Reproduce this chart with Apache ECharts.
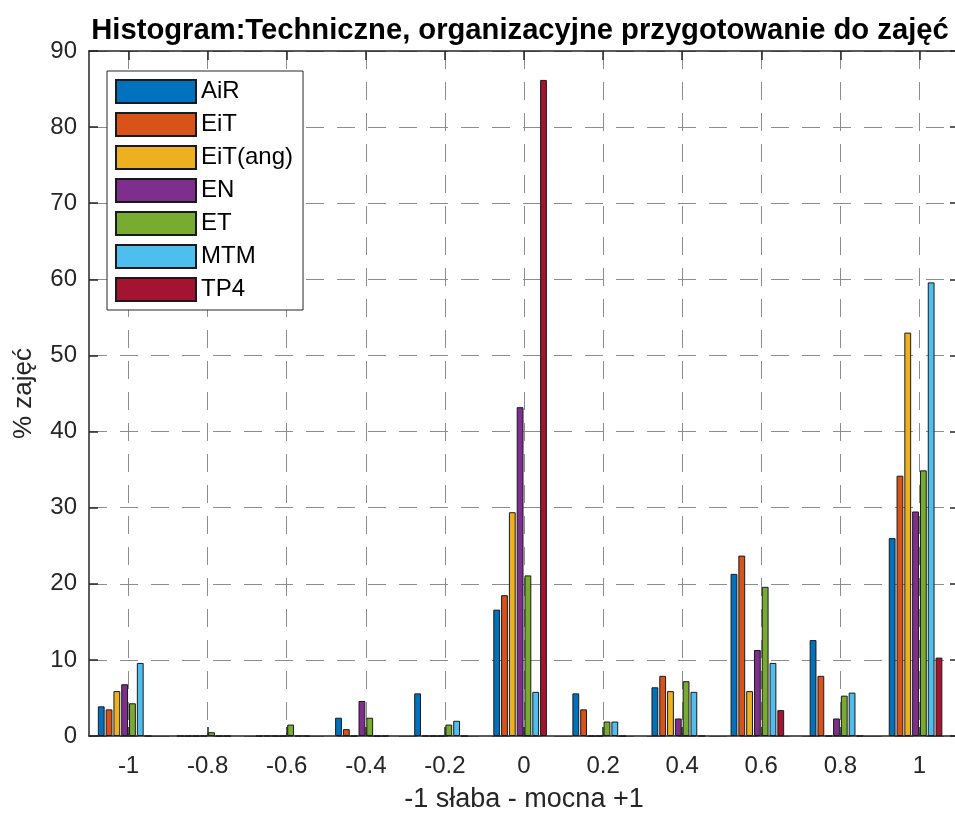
<!DOCTYPE html>
<html>
<head>
<meta charset="utf-8">
<script src="https://cdn.jsdelivr.net/npm/echarts@6/dist/echarts.min.js"></script>
<style>
	html, body { margin: 0; padding: 0; background: #fff; }
	#hist { width: 955px; height: 814px; }
</style>
</head>
<body>
<div id="hist"></div>
<script>
var bins = [-1, -0.8, -0.6, -0.4, -0.2, 0, 0.2, 0.4, 0.6, 0.8, 1];
var yTicks = [0, 10, 20, 30, 40, 50, 60, 70, 80, 90];

// % zajęć w każdym przedziale
var airVals = [3.9, 0, 0, 2.4, 5.6, 16.6, 5.6, 6.4, 21.3, 12.6, 26.0];
var eitVals = [3.5, 0, 0, 0.9, 0, 18.5, 3.5, 7.9, 23.7, 7.9, 34.2];
var eitAngVals = [5.9, 0, 0, 0, 0, 29.4, 0, 5.9, 5.9, 0, 53.0];
var enVals = [6.8, 0, 0, 4.6, 0, 43.2, 0, 2.3, 11.3, 2.3, 29.5];
var etVals = [4.3, 0.5, 1.5, 2.4, 1.5, 21.1, 1.9, 7.2, 19.6, 5.3, 34.9];
var mtmVals = [9.6, 0, 0, 0, 2.0, 5.8, 1.9, 5.8, 9.6, 5.7, 59.6];
var tp4Vals = [0, 0, 0, 0, 0, 86.2, 0, 0, 3.4, 0, 10.3];

var seriesNames = ['AiR', 'EiT', 'EiT(ang)', 'EN', 'ET', 'MTM', 'TP4'];
var seriesVals = [airVals, eitVals, eitAngVals, enVals, etVals, mtmVals, tp4Vals];
var seriesColors = ['#0072BD', '#D95319', '#EDB120', '#7E2F8E', '#77AC30', '#4DBEEE', '#A2142F'];

var axisColor = '#262626';
var gridColor = '#8c8c8c';
var fontFam = '"Liberation Sans", Arial, sans-serif';

var histChart = echarts.init(document.getElementById('hist'));

var series = [];
for(var i = 0; i < seriesNames.length; i++) {
	var pts = [];
	for(var j = 0; j < bins.length; j++) {
		pts.push([bins[j], seriesVals[i][j]]);
	}
	series.push({
		name: seriesNames[i],
		type: 'bar',
		data: pts,
		barWidth: 6.8,
		barGap: '14.7%',
		itemStyle: {
			color: seriesColors[i],
			borderColor: '#1a1a1a',
			borderWidth: 1
		},
		emphasis: { disabled: true },
		animation: false
	});
}
// pusty slot - grupa słupków jest przesunięta jak w oryginale
series.push({
	name: 'pad',
	type: 'bar',
	data: [],
	barWidth: 6.8,
	barGap: '14.7%',
	animation: false
});

histOption = {
	backgroundColor: '#fff',
	textStyle: { fontFamily: fontFam },
	title: {
		text: 'Histogram:Techniczne, organizacyjne przygotowanie do zajęć',
		left: 515,
		textAlign: 'center',
		top: 11,
		textStyle: {
			fontFamily: fontFam,
			fontWeight: 'bold',
			fontSize: 29.2,
			color: '#000'
		}
	},
	legend: {
		data: seriesNames,
		orient: 'vertical',
		left: 107,
		top: 71,
		padding: [8, 10, 8, 8],
		itemWidth: 80,
		itemHeight: 23,
		itemGap: 8,
		icon: 'rect',
		backgroundColor: '#fff',
		borderColor: axisColor,
		borderWidth: 1,
		textStyle: {
			fontFamily: fontFam,
			fontSize: 24,
			color: '#000'
		}
	},
	grid: {
		left: 89,
		top: 51,
		width: 870,
		height: 685,
		outerBoundsMode: 'none'
	},
	xAxis: [{
		type: 'value',
		min: -1.1,
		max: 1.1,
		name: '-1 słaba - mocna +1',
		nameLocation: 'middle',
		nameGap: 50,
		nameTextStyle: { fontFamily: fontFam, fontSize: 27, color: axisColor },
		axisLine: { onZero: false, lineStyle: { color: axisColor, width: 1.5 } },
		axisTick: { inside: true, length: 9, customValues: bins, lineStyle: { color: axisColor, width: 1.5 } },
		axisLabel: { customValues: bins, margin: 18, fontFamily: fontFam, fontSize: 24, color: axisColor },
		splitLine: { show: true, lineStyle: { color: gridColor, type: [18, 13], width: 1 } }
	}, {
		type: 'value',
		position: 'top',
		min: -1.1,
		max: 1.1,
		axisLine: { onZero: false, lineStyle: { color: axisColor, width: 1.5 } },
		axisTick: { inside: true, length: 9, customValues: bins, lineStyle: { color: axisColor, width: 1.5 } },
		axisLabel: { show: false },
		splitLine: { show: false }
	}],
	yAxis: [{
		type: 'value',
		min: 0,
		max: 90,
		interval: 10,
		name: '% zajęć',
		nameLocation: 'middle',
		nameGap: 52,
		nameTextStyle: { fontFamily: fontFam, fontSize: 26, color: axisColor },
		axisLine: { show: true, onZero: false, lineStyle: { color: axisColor, width: 1.5 } },
		axisTick: { show: true, inside: true, length: 9, lineStyle: { color: axisColor, width: 1.5 } },
		axisLabel: { margin: 12, fontFamily: fontFam, fontSize: 24, color: axisColor },
		splitLine: { show: true, lineStyle: { color: gridColor, type: [18, 13], width: 1 } }
	}, {
		type: 'value',
		position: 'right',
		min: 0,
		max: 90,
		interval: 10,
		axisLine: { show: true, onZero: false, lineStyle: { color: axisColor, width: 1.5 } },
		axisTick: { show: true, inside: true, length: 9, lineStyle: { color: axisColor, width: 1.5 } },
		axisLabel: { show: false },
		splitLine: { show: false }
	}],
	series: series
};

histChart.setOption(histOption);
</script>
</body>
</html>
